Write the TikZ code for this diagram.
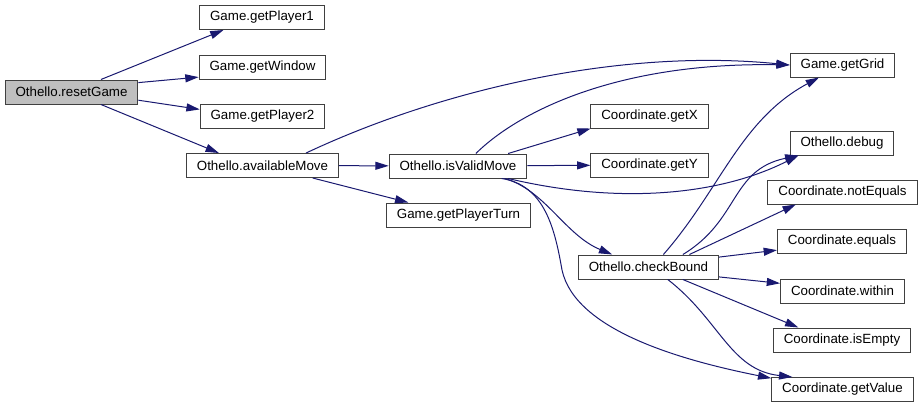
\documentclass[tikz,border=0pt]{standalone}
\usepackage{fontspec}
\setmainfont{Liberation Sans}
\usetikzlibrary{arrows.meta}

\definecolor{callblue}{HTML}{191970}
\definecolor{boxgray}{HTML}{BFBFBF}
\definecolor{boxline}{HTML}{404040}

\begin{document}
\begin{tikzpicture}[x=0.75pt, y=-0.75pt, >={Triangle[length=10pt, width=6pt]},
    fn/.style={draw=boxline, line width=0.75pt, fill=white, minimum height=18pt,
        inner xsep=7.8pt, inner ysep=0pt, font=\fontsize{10}{12}\selectfont},
    call/.style={->, color=callblue, line width=0.75pt}]
    \useasboundingbox (0,0) rectangle (923,407);

    \node[fn, fill=boxgray] (resetGame) at (71.5,92) {Othello.resetGame};
    \node[fn] (getPlayerOne) at (262,17.5) {Game.getPlayer1};
    \node[fn] (getWindow) at (262.5,67) {Game.getWindow};
    \node[fn] (getPlayerTwo) at (262.5,116) {Game.getPlayer2};
    \node[fn] (availableMove) at (262.5,165.5) {Othello.availableMove};
    \node[fn] (isValidMove) at (458,166) {Othello.isValidMove};
    \node[fn] (getPlayerTurn) at (458.5,215) {Game.getPlayerTurn};
    \node[fn] (getX) at (649.5,116) {Coordinate.getX};
    \node[fn] (getY) at (649.5,165) {Coordinate.getY};
    \node[fn] (checkBound) at (648.5,267) {Othello.checkBound};
    \node[fn] (getGrid) at (842.5,65) {Game.getGrid};
    \node[fn] (debug) at (842,143) {Othello.debug};
    \node[fn] (notEquals) at (842.5,192) {Coordinate.notEquals};
    \node[fn] (equals) at (842,241) {Coordinate.equals};
    \node[fn] (within) at (842.5,291) {Coordinate.within};
    \node[fn] (isEmpty) at (842,340) {Coordinate.isEmpty};
    \node[fn] (getValue) at (842.5,389.5) {Coordinate.getValue};

    \path[call]
    (resetGame.23) edge (getPlayerOne.198)
    (resetGame.8) edge (getWindow.189)
    (resetGame.-7) edge (getPlayerTwo.174)
    (resetGame.-23) edge (availableMove.164)
    (availableMove) edge (isValidMove)
    (availableMove.-14) edge (getPlayerTurn.166)
    (isValidMove.14) edge (getX.192)
    (isValidMove) edge (getY)
    (checkBound.17) edge (notEquals.195)
    (checkBound.8) edge (equals.188)
    (checkBound.-8) edge (within.173)
    (checkBound.-20) edge (isEmpty.164);

    % curved calls
    \draw[call] (availableMove.16) .. controls (440,90) and (620,48) .. (getGrid.west);
    \draw[call] (isValidMove.35) .. controls (520,110) and (620,62) .. (getGrid.west);
    \draw[call] (isValidMove.-14) .. controls (620,205) and (720,195) .. (debug.196);
    \draw[call] (isValidMove.-15) .. controls (545,190) and (565,235) .. (checkBound.161);
    \draw[call] (isValidMove.-16) .. controls (545,185) and (555,230) .. (562,270)
        .. controls (575,330) and (680,360) .. (getValue.171);
    \draw[call] (checkBound.40) .. controls (720,190) and (740,120) .. (getGrid.208);
    \draw[call] (checkBound.20) .. controls (740,220) and (730,170) .. (debug.196);
    \draw[call] (checkBound.-33) .. controls (720,320) and (730,370) .. (getValue.166);
\end{tikzpicture}
\end{document}
